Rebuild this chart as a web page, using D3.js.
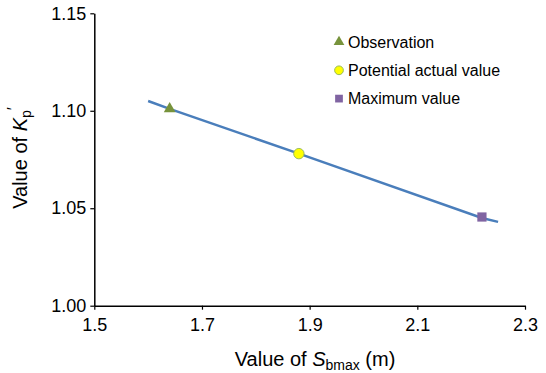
<!DOCTYPE html>
<html>
<head>
<meta charset="utf-8">
<script src="https://cdn.jsdelivr.net/npm/d3@7"></script>
<style>
  body { margin: 0; background: #fff; }
  svg { font-family: "Liberation Sans", Arial, sans-serif; }
</style>
</head>
<body>
<svg id="chart" width="546" height="373"></svg>
<script>
// fitted line S_bmax vs Kp'
const lineX = [1.6, 1.64, 1.88, 2.22, 2.25];
const lineY = [1.105, 1.101, 1.078, 1.045, 1.043];

// markers
const markerNames = ['Observation', 'Potential actual value', 'Maximum value'];
const markerX = [1.64, 1.88, 2.22];
const markerY = [1.101, 1.078, 1.0455];

const xTicks = [1.5, 1.7, 1.9, 2.1, 2.3];
const yTicks = [1.00, 1.05, 1.10, 1.15];

const svg = d3.select('#chart');

const x = d3.scaleLinear().domain([1.5, 2.3]).range([94.3, 525]);
const y = d3.scaleLinear().domain([1.0, 1.15]).range([305.7, 13.3]);

// axes
const xAxis = svg.append('g')
  .attr('transform', `translate(0,${y(1.0)})`)
  .call(d3.axisBottom(x).tickValues(xTicks).tickFormat(d3.format('.1f')).tickSize(4).tickSizeOuter(0));
const yAxis = svg.append('g')
  .attr('transform', `translate(${x(1.5)},0)`)
  .call(d3.axisLeft(y).tickValues(yTicks).tickFormat(d3.format('.2f')).tickSize(4).tickSizeOuter(0));

[xAxis, yAxis].forEach(g => {
  g.select('.domain').attr('stroke', '#000').attr('stroke-width', 1.5);
  g.selectAll('.tick line').attr('stroke', '#000').attr('stroke-width', 1.2);
  g.selectAll('text').attr('fill', '#000').style('font-size', '18px').style('font-family', '"Liberation Sans", Arial, sans-serif');
});
xAxis.selectAll('text').attr('dy', '1.0em');
yAxis.selectAll('text').attr('x', -8);

// line
const pts = lineX.map((v, i) => ({x: v, y: lineY[i]}));
svg.append('path')
  .datum(pts)
  .attr('d', d3.line().x(d => x(d.x)).y(d => y(d.y)))
  .attr('fill', 'none')
  .attr('stroke', '#4a7ebb')
  .attr('stroke-width', 2.5);

// marker shapes
const symbols = [d3.symbolTriangle, d3.symbolCircle, d3.symbolSquare];
const fills = ['#77933c', '#ffff00', '#8064a2'];
const strokes = ['none', '#9bbb59', 'none'];
const sizes = [60, 85, 85];

markerX.forEach((mx, i) => {
  svg.append('path')
    .attr('d', d3.symbol().type(symbols[i]).size(sizes[i])())
    .attr('transform', `translate(${x(mx)},${y(markerY[i])})`)
    .attr('fill', fills[i])
    .attr('stroke', strokes[i])
    .attr('stroke-width', 1);
});

// legend
const legend = svg.append('g').attr('transform', 'translate(339,42)');
markerNames.forEach((name, i) => {
  const row = legend.append('g').attr('transform', `translate(0,${i * 28.3})`);
  row.append('path')
    .attr('d', d3.symbol().type(symbols[i]).size(i === 0 ? 50 : 60)())
    .attr('fill', fills[i])
    .attr('stroke', strokes[i])
    .attr('stroke-width', 1);
  row.append('text')
    .attr('x', 9)
    .attr('y', 5.5)
    .style('font-size', '16px')
    .text(name);
});

// axis titles
const xt = svg.append('text')
  .attr('x', 315)
  .attr('y', 366)
  .attr('text-anchor', 'middle')
  .style('font-size', '20px');
xt.append('tspan').text('Value of ');
xt.append('tspan').style('font-style', 'italic').text('S');
xt.append('tspan').attr('dy', 4).style('font-size', '14px').text('bmax');
xt.append('tspan').attr('dy', -4).text(' (m)');

const yt = svg.append('text')
  .attr('transform', 'translate(27,158) rotate(-90)')
  .attr('text-anchor', 'middle')
  .style('font-size', '20px');
yt.append('tspan').text('Value of ');
yt.append('tspan').style('font-style', 'italic').text('K');
yt.append('tspan').attr('dy', 4).style('font-size', '14px').text('p');
yt.append('tspan').attr('dy', -12).style('font-size', '16px').text('\u2032');
</script>
</body>
</html>
